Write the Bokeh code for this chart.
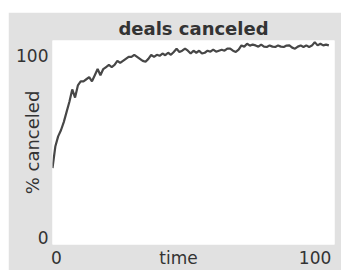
from bokeh.plotting import figure
from bokeh.models import Range1d, FixedTicker
from bokeh.embed import file_html
from bokeh.resources import INLINE

title_text = "deals canceled"
y_label = "% canceled"
# tick labels as NetLogo shows them (min / axis name / max)
x_tick_labels = ["0", "time", "100"]
y_tick_labels = ["0", "100"]

pct_canceled = [
    37.5, 48, 53, 56, 60, 65, 70, 76, 72, 78,
    80, 80, 81, 82, 80, 83, 86, 83, 86, 87,
    88, 87, 88, 90, 89, 90, 91, 92, 92, 93,
    92, 91, 90, 89.6, 91, 93, 92, 93, 92.5, 93.6,
    92.8, 94, 93, 94.4, 96, 94.4, 95, 96, 95, 93.6,
    95, 94, 95, 93.6, 94, 95, 94.5, 95.5, 94.5, 95,
    95.5, 95, 96, 96, 95, 94.4, 95.5, 97.6, 97, 98.4,
    97.5, 98, 97.6, 97, 98, 97, 96.8, 97.6, 97, 96.8,
    97.6, 97, 96.8, 97.5, 97.6, 96.5, 96, 97, 97.6, 96.8,
    97.6, 96.8, 97.5, 99.2, 97.6, 98.4, 97.6, 98, 97.6,
]
time = list(range(len(pct_canceled)))

GREY = "#e1e1e1"
TEXT = "#333333"
FONT = "DejaVu Sans"

p = figure(width=333, height=258, output_backend="svg", toolbar_location=None,
           x_range=Range1d(0, 100), y_range=Range1d(0, 100),
           min_border_left=44, min_border_right=7, min_border_top=28, min_border_bottom=22)
p.margin = (12, 0, 0, 8)

p.background_fill_color = "white"
p.border_fill_color = GREY
p.outline_line_color = None
p.grid.visible = False

p.title.text = title_text
p.title.align = "center"
p.title.text_font = FONT
p.title.text_font_size = "18px"
p.title.text_font_style = "bold"
p.title.text_color = TEXT
p.title.offset = 0
p.title.standoff = 3

p.line(time, pct_canceled, line_color="#474747", line_width=2.2)

xt = [1.4, 44.7, 93.1]
p.xaxis.ticker = FixedTicker(ticks=xt)
p.xaxis.major_label_overrides = {k: v for k, v in zip(xt, x_tick_labels)}
yt = [3.4, 92.8]
p.yaxis.ticker = FixedTicker(ticks=yt)
p.yaxis.major_label_overrides = {k: v for k, v in zip(yt, y_tick_labels)}

for ax in (p.xaxis, p.yaxis):
    ax.axis_line_color = None
    ax.major_tick_line_color = None
    ax.minor_tick_line_color = None
    ax.major_tick_out = 0
    ax.major_tick_in = 0
    ax.major_label_text_font = FONT
    ax.major_label_text_font_size = "17px"
    ax.major_label_text_color = TEXT
p.xaxis.major_label_standoff = 3
p.yaxis.major_label_standoff = 4

p.yaxis.axis_label = y_label
p.yaxis.axis_label_standoff = -30
p.yaxis.axis_label_text_font = FONT
p.yaxis.axis_label_text_font_size = "18px"
p.yaxis.axis_label_text_font_style = "normal"
p.yaxis.axis_label_text_color = TEXT

open("out.html", "w").write(file_html(p, INLINE))
